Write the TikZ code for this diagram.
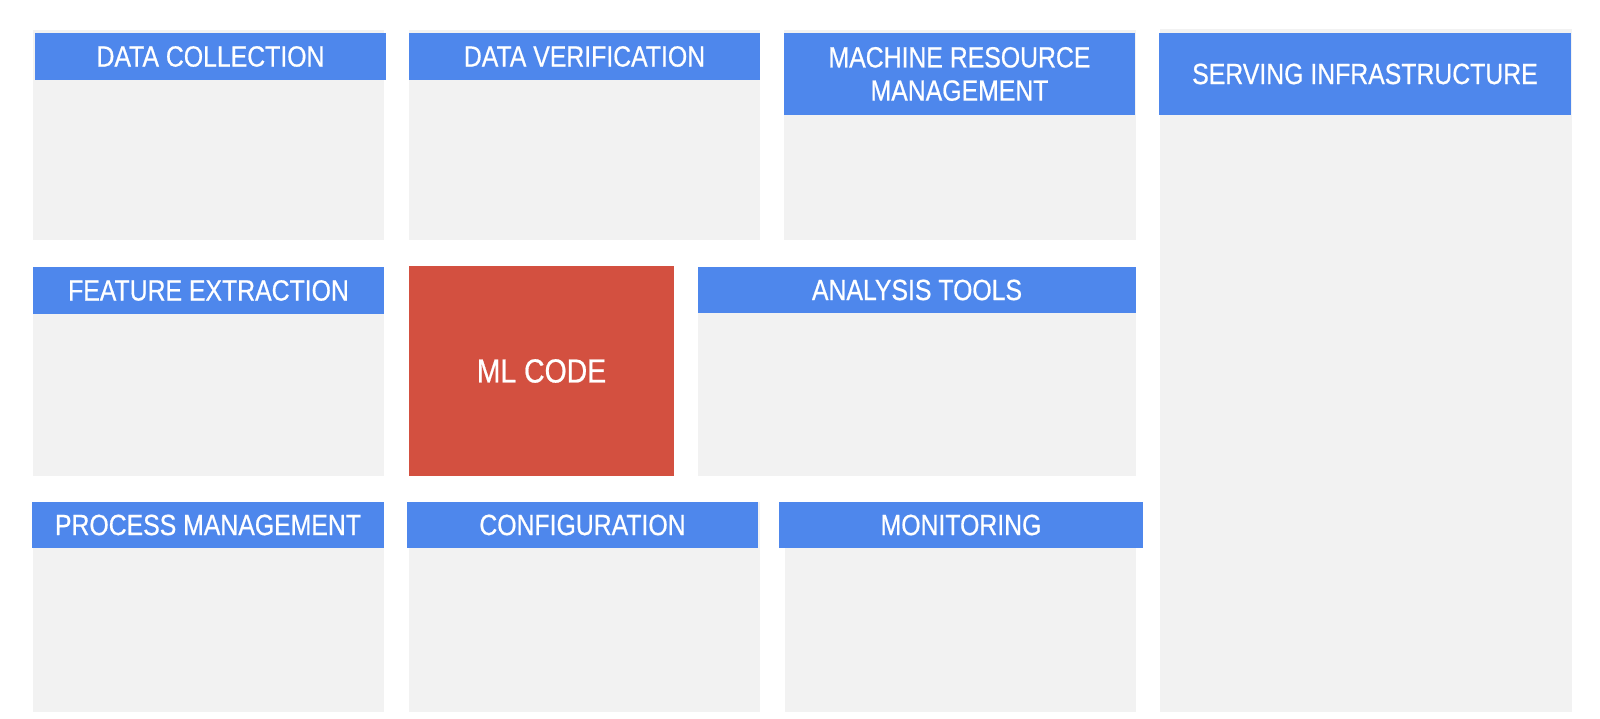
\documentclass[tikz,border=0pt]{standalone}
\usepackage{fontspec}
\setmainfont{Liberation Sans}[FakeStretch=0.85,FakeBold=0.6]
\definecolor{panelgrey}{HTML}{F2F2F2}
\definecolor{headblue}{HTML}{4E87EC}
\definecolor{mlred}{HTML}{D35040}
\tikzset{
  panel/.style={fill=panelgrey},
  header/.style={rectangle,fill=headblue,text=white,inner sep=0pt,align=center,
    font=\fontsize{8.3}{9.45}\selectfont},
  mlbox/.style={rectangle,fill=mlred,text=white,inner sep=0pt,
    font=\fontsize{9.5}{11}\selectfont}
}
\begin{document}
\begin{tikzpicture}[x=0.01cm,y=-0.01cm]
\useasboundingbox[fill=white] (0,0) rectangle (1600,719);

% Top row
\fill[panel] (33,30) rectangle (384,240);
\node[header,minimum width=3.51cm,minimum height=0.47cm] (dc) at (210.5,56.5) {DATA COLLECTION};
\fill[panel] (409,30) rectangle (760,240);
\node[header,minimum width=3.51cm,minimum height=0.47cm] (dv) at (584.5,56.5) {DATA VERIFICATION};
\fill[panel] (784,30) rectangle (1136,240);
\node[header,minimum width=3.51cm,minimum height=0.82cm] (mrm) at (959.5,74) {MACHINE RESOURCE\\MANAGEMENT};

% Serving infrastructure (full height)
\fill[panel] (1160,29) rectangle (1572,712);
\node[header,minimum width=4.12cm,minimum height=0.82cm] (si) at (1365,74) {SERVING INFRASTRUCTURE};

% Middle row
\fill[panel] (33,267) rectangle (384,476);
\node[header,minimum width=3.51cm,minimum height=0.47cm] (fe) at (208.5,290.5) {FEATURE EXTRACTION};
\node[mlbox,minimum width=2.65cm,minimum height=2.10cm] (ml) at (541.5,371) {ML CODE};
\fill[panel] (698,267) rectangle (1136,476);
\node[header,minimum width=4.38cm,minimum height=0.46cm] (at) at (917,290) {ANALYSIS TOOLS};

% Bottom row
\fill[panel] (33,502) rectangle (384,712);
\node[header,minimum width=3.52cm,minimum height=0.46cm] (pm) at (208,525) {PROCESS MANAGEMENT};
\fill[panel] (409,502) rectangle (760,712);
\node[header,minimum width=3.51cm,minimum height=0.46cm] (cfg) at (582.5,525) {CONFIGURATION};
\fill[panel] (785,502) rectangle (1136,712);
\node[header,minimum width=3.64cm,minimum height=0.46cm] (mon) at (961,525) {MONITORING};

\end{tikzpicture}
\end{document}
